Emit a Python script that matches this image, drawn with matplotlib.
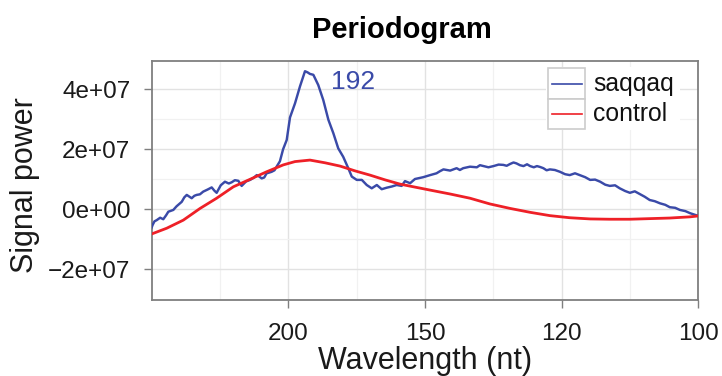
import numpy as np
import matplotlib
matplotlib.use("Agg")
import matplotlib.pyplot as plt
from matplotlib.patches import Rectangle
from matplotlib.lines import Line2D

plt.rcParams['font.family'] = ['Liberation Sans', 'DejaVu Sans']

# wavelength (nt) and signal power (units of 1e7)
wl_saqqaq = [300.0, 299.0, 297.0, 294.6, 291.0, 287.8, 285.0, 282.8, 278.0, 275.0,
             270.3, 268.0, 265.9, 263.5, 261.7, 259.5, 257.6, 255.0, 252.4, 249.0,
             246.0, 244.0, 242.4, 239.5, 236.6, 234.0, 232.1, 230.0, 227.8, 225.7,
             223.0, 220.6, 218.5, 216.7, 215.5, 213.9, 212.5, 211.2, 210.0, 208.5,
             207.0, 205.9, 204.2, 202.6, 200.8, 199.2, 196.8, 194.5, 192.2, 191.0,
             190.0, 188.5, 186.4, 184.3, 182.2, 180.2, 178.3, 176.4, 174.5, 173.2,
             171.4, 169.6, 167.9, 166.2, 164.5, 162.9, 161.3, 159.7, 158.2, 156.7,
             155.7, 154.2, 152.8, 150.5, 148.6, 146.9, 146.0, 145.1, 143.4, 141.8,
             141.0, 140.2, 138.6, 137.0, 136.3, 135.5, 134.4, 133.3, 132.2, 131.2,
             130.5, 129.8, 129.1, 128.5, 127.8, 127.1, 126.4, 125.8, 125.1, 124.5,
             123.9, 123.3, 122.7, 122.1, 121.2, 120.3, 119.4, 118.6, 117.7, 116.9,
             116.0, 115.2, 114.4, 113.6, 112.8, 112.1, 111.3, 110.6, 109.8, 109.1,
             108.4, 107.7, 107.0, 106.3, 105.6, 104.9, 104.2, 103.6, 102.9, 102.3,
             101.6, 101.0, 100.0]
pw_saqqaq = [-0.60, -0.52, -0.40, -0.36, -0.28, -0.33, -0.20, -0.08, -0.02, 0.10,
             0.25, 0.40, 0.48, 0.42, 0.37, 0.45, 0.48, 0.50, 0.59, 0.66,
             0.73, 0.62, 0.55, 0.80, 0.92, 0.86, 0.90, 0.97, 0.95, 0.78,
             0.93, 0.98, 1.05, 1.14, 1.10, 1.03, 1.06, 1.20, 1.22, 1.25,
             1.30, 1.42, 1.60, 2.00, 2.31, 3.06, 3.53, 4.09, 4.60, 4.56,
             4.51, 4.48, 4.14, 3.64, 2.98, 2.53, 2.03, 1.75, 1.37, 1.09,
             0.98, 0.98, 0.81, 0.70, 0.81, 0.67, 0.72, 0.76, 0.81, 0.78,
             0.94, 0.87, 1.01, 1.07, 1.14, 1.20, 1.27, 1.33, 1.29, 1.37,
             1.31, 1.37, 1.42, 1.40, 1.47, 1.44, 1.40, 1.44, 1.49, 1.48,
             1.45, 1.51, 1.56, 1.53, 1.47, 1.44, 1.50, 1.44, 1.40, 1.44,
             1.41, 1.37, 1.30, 1.33, 1.31, 1.25, 1.17, 1.14, 1.20, 1.14,
             1.07, 0.98, 0.99, 0.92, 0.82, 0.78, 0.80, 0.70, 0.61, 0.55,
             0.60, 0.51, 0.42, 0.31, 0.27, 0.20, 0.15, 0.07, 0.05, -0.02,
             -0.06, -0.13, -0.22]

wl_control = [300.0, 284.4, 268.9, 254.9, 242.4, 231.0, 220.6, 211.2, 202.5, 196.8,
              190.0, 183.6, 177.6, 172.0, 166.8, 161.8, 157.2, 152.8, 148.6, 143.4,
              138.6, 134.1, 129.8, 125.8, 122.1, 118.6, 115.2, 112.1, 109.1, 106.3,
              103.6, 101.0, 100.0]
pw_control = [-0.82, -0.63, -0.36, 0.03, 0.37, 0.75, 1.00, 1.25, 1.48, 1.59,
              1.64, 1.55, 1.44, 1.28, 1.14, 0.98, 0.84, 0.74, 0.64, 0.51,
              0.37, 0.18, 0.03, -0.10, -0.21, -0.28, -0.32, -0.33, -0.33, -0.31,
              -0.29, -0.25, -0.22]

series_names = ['saqqaq', 'control']
x_major = [200, 150, 120, 100]
x_minor = [240, 171.4, 133.3, 109.1]
y_major = [-2e7, 0, 2e7, 4e7]
y_minor = [-1e7, 1e7, 3e7]
y_labels = ['\u22122e+07', '0e+00', '2e+07', '4e+07']
peak_wl = 192.2
peak_pw = 4.60
peak_text = '192'

blue = '#3a4aa8'
red = '#ee2027'

W, H = 722, 376
fig = plt.figure(figsize=(W / 100, H / 100), dpi=100)
ax = fig.add_axes([151.7 / W, 1 - 300 / H, (698.3 - 151.7) / W, (300 - 61) / H])

ax.plot(1 / np.array(wl_saqqaq), np.array(pw_saqqaq) * 1e7, color=blue, lw=1.75, zorder=3)
ax.plot(1 / np.array(wl_control), np.array(pw_control) * 1e7, color=red, lw=2.0, zorder=3)

ax.set_xlim(1 / 300, 1 / 100)
ax.set_ylim(-3.02e7, 4.94e7)

ax.set_xticks(1 / np.array(x_major))
ax.set_xticklabels([str(v) for v in x_major])
ax.set_xticks(1 / np.array(x_minor), minor=True)
ax.set_yticks(y_major)
ax.set_yticklabels(y_labels)
ax.set_yticks(y_minor, minor=True)

ax.grid(which='major', color='#e2e2e2', lw=1.0, zorder=0)
ax.grid(which='minor', color='#f1f1f1', lw=0.9, zorder=0)
ax.set_axisbelow(True)

for s in ax.spines.values():
    s.set_color('#7f7f7f')
    s.set_linewidth(1.3)

ax.tick_params(which='major', direction='out', length=5.8, width=1.0, color='#7f7f7f',
               labelsize=17.5, labelcolor='#1a1a1a')
ax.tick_params(axis='x', which='major', pad=10.5)
ax.tick_params(axis='y', which='major', pad=9.5)
ax.tick_params(which='minor', length=0)

ax.set_xlabel('Wavelength (nt)', fontsize=22, color='#1a1a1a')
ax.xaxis.set_label_coords(0.5, -46.5 / 239)
ax.set_ylabel('Signal power', fontsize=22, color='#1a1a1a')
ax.yaxis.set_label_coords((39.5 - 151.7) / 546.6, (300 - 185) / 239)

fig.text(402 / W, 1 - 38.3 / H, 'Periodogram', ha='center', va='baseline',
         fontsize=21, fontweight='bold')

ax.annotate(peak_text, xy=(1 / peak_wl, peak_pw * 1e7), xytext=(34.5, -12.5),
            textcoords='offset points', ha='center', va='baseline',
            fontsize=19, color=blue)

# ggplot-like legend with boxed keys
def fx(px):
    return px / W

def fy(py):
    return 1 - py / H

fig.add_artist(Rectangle((fx(546), fy(130)), fx(680) - fx(546), fy(67) - fy(130),
                         transform=fig.transFigure, facecolor='white', edgecolor='none', zorder=4))
key_top = 68.3
key_h = 30.5
for i, (name, col) in enumerate(zip(series_names, [blue, red])):
    top = key_top + i * key_h
    fig.add_artist(Rectangle((fx(547.7), fy(top + key_h)), fx(585.3) - fx(547.7),
                             fy(top) - fy(top + key_h), transform=fig.transFigure,
                             facecolor='white', edgecolor='#cccccc', lw=1.2, zorder=5))
    cy = fy(top + key_h / 2)
    fig.add_artist(Line2D([fx(551.7), fx(581.7)], [cy, cy], transform=fig.transFigure,
                          color=col, lw=1.2, zorder=6))
    fig.text(fx(593.5), cy, name, ha='left', va='center', fontsize=17.8, color='#111111', zorder=6)

fig.savefig('out.png', dpi=100, facecolor='white')
